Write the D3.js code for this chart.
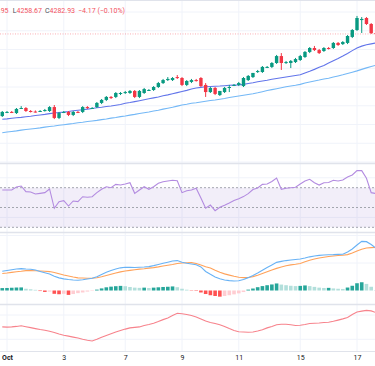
<!DOCTYPE html>
<html>
<head>
<meta charset="utf-8">
<script src="https://cdn.jsdelivr.net/npm/d3@7"></script>
<style>
  html, body { margin: 0; background: #fff; overflow: hidden; }
  svg { display: block; font-family: Roboto, "Noto Sans", sans-serif; }
</style>
</head>
<body>
<svg id="chart" width="375" height="366"></svg>
<script>
// date ticks (candle index -> label)
const tickIdx = [1, 13, 26, 38, 50, 63, 75];
const tickLabels = ['Oct', '3', '7', '9', '11', '15', '17'];

// 4h candles
const open = [3845,3864,3867,3861,3885,3888,3872,3869,3869,3872,3872,3893,3835,3864,3867,3851,3867,3867,3893,3885,
  3893,3915,3931,3947,3947,3963,3968,3968,3979,3947,3968,3981,3984,4000,4021,4037,4037,4053,4048,4011,
  4027,4037,4048,4011,3973,3995,3957,3973,3995,4008,4011,4005,4037,4053,4080,4080,4104,4107,4128,4165,
  4128,4128,4133,4144,4160,4187,4208,4197,4192,4208,4208,4235,4229,4235,4267,4304,4357,4368,4336,4287.10];
const high = [3872,3872,3872,3888,3898,3893,3877,3875,3877,3883,3898,3904,3867,3872,3872,3872,3872,3898,3898,3893,
  3920,3936,3952,3952,3973,3973,3979,3984,3984,3984,3995,3989,4005,4027,4043,4053,4053,4064,4053,4037,
  4043,4043,4053,4021,4000,4000,3979,4000,4011,4016,4027,4053,4064,4075,4091,4112,4112,4133,4171,4181,
  4139,4144,4155,4171,4192,4213,4219,4203,4213,4213,4240,4240,4245,4277,4309,4379,4373,4373,4341,4293.95];
const low = [3840,3861,3861,3856,3883,3867,3864,3864,3867,3869,3867,3829,3829,3861,3845,3845,3861,3861,3883,3883,
  3888,3909,3925,3936,3941,3957,3963,3963,3941,3941,3963,3979,3979,3995,4016,4032,4032,4043,4005,4005,
  4021,4029,4000,3947,3968,3957,3952,3968,3973,4005,4005,4000,4032,4048,4075,4075,4101,4101,4123,4091,
  4123,4101,4128,4139,4155,4181,4192,4176,4187,4200,4203,4219,4224,4229,4261,4299,4288,4331,4283,4258.67];
const close = [3867,3867,3864,3883,3888,3872,3869,3867,3872,3877,3893,3835,3861,3867,3851,3867,3864,3893,3888,3888,
  3915,3931,3947,3941,3968,3968,3973,3979,3947,3979,3989,3984,4000,4021,4037,4043,4048,4051,4011,4032,
  4037,4035,4005,3973,3995,3963,3979,3995,4000,4011,4021,4048,4059,4075,4085,4107,4107,4128,4165,4128,
  4133,4139,4149,4165,4187,4208,4197,4181,4208,4205,4235,4224,4240,4272,4304,4368,4363,4336,4287.10,4282.93];

// moving averages
const maFast = [3828,3830,3833,3836,3838,3841,3844,3848,3851,3854,3858,3861,3864,3866,3869,3873,3876,3879,3882,3885,
  3889,3892,3896,3899,3903,3907,3913,3917,3922,3927,3932,3937,3942,3947,3953,3958,3964,3970,3976,3982,
  3989,3995,3998,4001,4003,4004,4005,4007,4009,4010,4011,4014,4019,4023,4028,4032,4036,4041,4045,4049,
  4053,4057,4061,4065,4075,4084,4094,4105,4115,4128,4140,4152,4165,4179,4194,4208,4218,4225,4230,4235];
const maSlow = [3756,3760,3763,3766,3770,3773,3776,3779,3782,3786,3789,3792,3796,3799,3802,3805,3809,3812,3816,3819,
  3822,3826,3829,3834,3837,3842,3845,3850,3854,3859,3863,3867,3872,3876,3882,3887,3892,3898,3904,3908,
  3913,3916,3920,3924,3928,3931,3935,3939,3944,3948,3952,3956,3960,3964,3969,3975,3981,3986,3991,3996,
  4001,4005,4009,4014,4021,4027,4032,4037,4043,4047,4053,4059,4065,4072,4079,4086,4094,4102,4109,4116];

// RSI
const rsi = [67.7,67.7,67.7,70.7,71.7,66,65.7,63.6,64.3,65,
  68.7,49.2,55.9,56.9,51.5,56.6,55.9,60.9,60.3,60.9,
  65,68.4,71,70,73.4,72.7,73.7,75,64.3,67.7,
  71,68.4,71,74.4,76,76.8,77.5,77,65,67,
  67.7,69.4,59.6,49.2,52.5,46.8,50.2,52.2,54.5,57,
  58.9,61,64,68.2,69.7,73.4,73.7,76.3,79.8,68.4,
  69.4,70,70.5,73.7,76.8,78.5,75,72.7,75,75.2,
  77.5,76.8,77.8,80.8,82.8,87.2,87.2,79.5,65,64.1];

// MACD
const macd = [17.5,18.2,18.9,19.5,19.9,19.5,19.3,18.6,17.3,16.1,
  15,12.9,11.5,10.6,10,9.5,9.3,9.8,10.5,11.1,
  12.5,14.5,16.5,18.2,19.5,20.6,21.1,21,20.9,21.2,
  21.4,21.7,22.6,23.7,24.7,25.7,26.8,27.2,25.6,24.7,
  24.1,23.4,21.4,17.3,14.7,12.3,10.6,9.5,9,8.6,
  8.8,10,11.7,13.6,15.9,18.4,20.9,23.2,25.6,26.5,
  27.2,27.7,28.2,28.6,29.5,30.6,31.4,31.9,32.3,32.5,
  32.6,32.8,32.9,35,37.7,41.4,44.7,44.4,41.8,38.4];
const signal = [15.4,15.9,16.5,17,17.5,18.1,18.1,17.9,17.7,17.5,
  17.2,16.4,15.2,14.1,13.2,12.3,11.5,11.4,11.2,11.1,
  11.6,12.5,13.6,14.8,15.9,16.9,17.7,18.3,18.9,19.4,
  19.8,20.3,20.8,21.5,22.3,23,23.6,24.5,25,25.2,
  25.3,24.6,23.2,21.6,20.5,18.4,16.5,15.1,14,12.9,
  12,11.7,11.8,12.6,13.9,15.5,17.1,18.6,20.1,21.4,
  22.5,23.3,23.9,24.6,26.1,27.5,28.6,29.5,30.3,30.9,
  31.4,31.8,32.1,32.6,34.1,35.9,37.5,38.6,39,39.1];
const hist = [2.2,2.3,2.5,2.7,2.8,1.6,1.1,0.6,-0.5,-1.3,
  -1.0,-3.0,-3.4,-3.0,-4.0,-3.2,-2.4,-1.8,-1.0,-0.4,
  0.8,1.9,2.9,3.5,3.9,4.2,3.9,3.2,2.6,2.4,
  2.6,2.3,2.6,2.9,3.2,3.4,3.7,3.0,1.6,0.7,
  -0.3,-0.4,-1.8,-3.2,-4.3,-5.0,-5.6,-5.0,-4.3,-3.5,
  -2.6,-1.4,0.8,1.8,3.0,4.0,4.8,5.5,6.4,5.4,
  4.8,4.3,4.0,4.2,4.6,4.0,3.3,2.6,2.3,2.4,
  1.9,1.6,1.4,2.7,4.3,6.6,7.5,6.0,3.4,0.4];

// lower oscillator
const osc = [25.1,25.0,25.1,25.3,25.6,25.2,24.8,24.4,24.0,23.7,
  23.3,22.8,22.2,21.7,21.3,20.9,20.5,20.0,19.6,19.3,
  20.0,20.8,21.6,22.3,23.0,23.6,24.2,24.7,24.9,25.1,
  25.7,26.1,26.6,27.3,28.1,28.8,29.8,30.7,30.5,30.2,
  29.8,29.2,28.4,27.5,26.9,26.5,26.0,25.3,24.4,23.6,
  23.1,23.0,22.9,23.0,23.4,23.9,24.7,25.3,26.0,26.2,
  26.2,26.0,25.7,25.8,26.1,26.5,26.6,26.7,26.9,27.0,
  27.4,27.9,28.4,29.0,30.2,31.2,31.6,31.9,31.7,31.0];

const W = 375, H = 366;
const UP = '#089981', DOWN = '#f23645';
const gridColor = '#f0f3fa', sepColor = '#e0e3eb';

const svg = d3.select('#chart');

// panes
const panes = {
  main: [0, 163],
  rsi: [164, 232],
  macd: [233, 304],
  osc: [305, 351]
};

const x = d3.scaleLinear().domain([1, 75]).range([7, 357]);
const yMain = d3.scaleLinear().domain([3600, 4400]).range([162, 12]);
const yRsi = d3.scaleLinear().domain([30, 70]).range([227.3, 187.7]);
const yMacd = d3.scaleLinear().domain([0, 25]).range([290.5, 263]);
const yOsc = d3.scaleLinear().domain([20, 30]).range([339.3, 315]);

const defs = svg.append('defs');
Object.entries(panes).forEach(([k, [t, b]]) => {
  defs.append('clipPath').attr('id', 'clip-' + k)
    .append('rect').attr('x', 0).attr('y', t).attr('width', W).attr('height', b - t);
});

// vertical grid
svg.append('g').selectAll('line')
  .data(tickIdx)
  .join('line')
  .attr('x1', d => x(d)).attr('x2', d => x(d))
  .attr('y1', 0).attr('y2', 351)
  .attr('stroke', gridColor);

// horizontal grid
function hGrid(scale, vals, pane) {
  svg.append('g').attr('clip-path', `url(#clip-${pane})`)
    .selectAll('line')
    .data(vals)
    .join('line')
    .attr('x1', 0).attr('x2', W)
    .attr('y1', d => scale(d)).attr('y2', d => scale(d))
    .attr('stroke', gridColor);
}
hGrid(yMain, yMain.ticks(8), 'main');
hGrid(yRsi, [80, 40], 'rsi');
hGrid(yMacd, [25, 50], 'macd');
hGrid(yOsc, [20, 30], 'osc');

// pane separators
svg.append('g').selectAll('line')
  .data([0.5, 163.5, 232.5, 304.5, 351.5])
  .join('line')
  .attr('x1', 0).attr('x2', W)
  .attr('y1', d => d).attr('y2', d => d)
  .attr('stroke', sepColor)
  .attr('stroke-width', (d, i) => (i === 0 || i === 4) ? 1 : 1.5);

const idx = d3.range(close.length);
const lineOf = (scale, arr) => d3.line().x(i => x(i)).y(i => scale(arr[i]));

// ---- main pane ----
const main = svg.append('g').attr('clip-path', 'url(#clip-main)');

main.append('path').datum(idx)
  .attr('d', lineOf(yMain, maSlow))
  .attr('fill', 'none').attr('stroke', '#74b8f6').attr('stroke-width', 1.1);
main.append('path').datum(idx)
  .attr('d', lineOf(yMain, maFast))
  .attr('fill', 'none').attr('stroke', '#6275ea').attr('stroke-width', 1.1);

// last price line
const last = close[close.length - 1];
main.append('line')
  .attr('x1', 0).attr('x2', W)
  .attr('y1', yMain(last)).attr('y2', yMain(last))
  .attr('stroke', DOWN).attr('stroke-opacity', 0.4)
  .attr('stroke-dasharray', '1,1.5');

const candles = main.append('g').selectAll('g')
  .data(idx)
  .join('g');
candles.append('line')
  .attr('x1', i => x(i)).attr('x2', i => x(i))
  .attr('y1', i => yMain(high[i])).attr('y2', i => yMain(low[i]))
  .attr('stroke', i => close[i] >= open[i] ? UP : DOWN)
  .attr('stroke-width', 1);
candles.append('rect')
  .attr('x', i => x(i) - 1.7)
  .attr('width', 3.4)
  .attr('y', i => yMain(Math.max(open[i], close[i])))
  .attr('height', i => Math.max(1, Math.abs(yMain(open[i]) - yMain(close[i]))))
  .attr('fill', i => close[i] >= open[i] ? UP : DOWN);

// OHLC legend (starts off the left edge, like the cropped original)
const legend = svg.append('g').attr('font-size', 7);
function legendItem(xPos, label, value, anchor) {
  const t = legend.append('text').attr('x', xPos).attr('y', 12.5)
    .attr('text-anchor', anchor || 'start');
  if (label) t.append('tspan').attr('fill', '#4a4e5a').text(label);
  t.append('tspan').attr('fill', '#f4525e').text(value);
}
legendItem(8.5, 'H', high[high.length - 1].toFixed(2), 'end');
legendItem(12.7, 'L', low[low.length - 1].toFixed(2));
legendItem(45, 'C', last.toFixed(2));
const chg = last - close[close.length - 2];
legendItem(78, '', `${chg.toFixed(2).replace('-', '\u2212')} (${(chg / close[close.length - 2] * 100).toFixed(2).replace('-', '\u2212')}%)`);

// ---- RSI pane ----
const rsiG = svg.append('g').attr('clip-path', 'url(#clip-rsi)');
rsiG.append('rect')
  .attr('x', 0).attr('width', W)
  .attr('y', yRsi(70)).attr('height', yRsi(30) - yRsi(70))
  .attr('fill', '#7e57c2').attr('fill-opacity', 0.1);
rsiG.selectAll('line.band')
  .data([70, 50, 30])
  .join('line')
  .attr('class', 'band')
  .attr('x1', 0).attr('x2', W)
  .attr('y1', d => yRsi(d)).attr('y2', d => yRsi(d))
  .attr('stroke', '#a3a6ae').attr('stroke-dasharray', '2,2');
rsiG.append('path').datum(idx)
  .attr('d', lineOf(yRsi, rsi))
  .attr('fill', 'none').attr('stroke', '#b38be0').attr('stroke-width', 1.1);

// ---- MACD pane ----
const macdG = svg.append('g').attr('clip-path', 'url(#clip-macd)');
macdG.selectAll('rect')
  .data(idx)
  .join('rect')
  .attr('x', i => x(i) - 1.8)
  .attr('width', 3.6)
  .attr('y', i => yMacd(Math.max(0, hist[i])))
  .attr('height', i => Math.abs(yMacd(hist[i]) - yMacd(0)))
  .attr('fill', i => {
    const prev = i > 0 ? hist[i - 1] : hist[i];
    if (hist[i] >= 0) return hist[i] >= prev ? '#26a69a' : '#b2dfdb';
    return hist[i] <= prev ? '#ff5252' : '#ffcdd2';
  });
macdG.append('path').datum(idx)
  .attr('d', lineOf(yMacd, signal))
  .attr('fill', 'none').attr('stroke', '#ffa25a').attr('stroke-width', 1.1);
macdG.append('path').datum(idx)
  .attr('d', lineOf(yMacd, macd))
  .attr('fill', 'none').attr('stroke', '#68b2f5').attr('stroke-width', 1.1);

// ---- lower oscillator ----
const oscG = svg.append('g').attr('clip-path', 'url(#clip-osc)');
oscG.append('path').datum(idx)
  .attr('d', lineOf(yOsc, osc))
  .attr('fill', 'none').attr('stroke', '#f7838c').attr('stroke-width', 1.1);

// ---- time axis ----
const xAxis = d3.axisBottom(x)
  .tickValues(tickIdx)
  .tickFormat((d, i) => tickLabels[i])
  .tickSize(0)
  .tickPadding(4);
const ax = svg.append('g')
  .attr('transform', 'translate(0,351)')
  .call(xAxis);
ax.select('.domain').remove();
ax.selectAll('text')
  .attr('fill', '#131722')
  .attr('font-size', 7)
  .attr('font-family', 'Roboto, "Noto Sans", sans-serif')
  .attr('font-weight', (d, i) => i === 0 ? 700 : 400);
</script>
</body>
</html>
